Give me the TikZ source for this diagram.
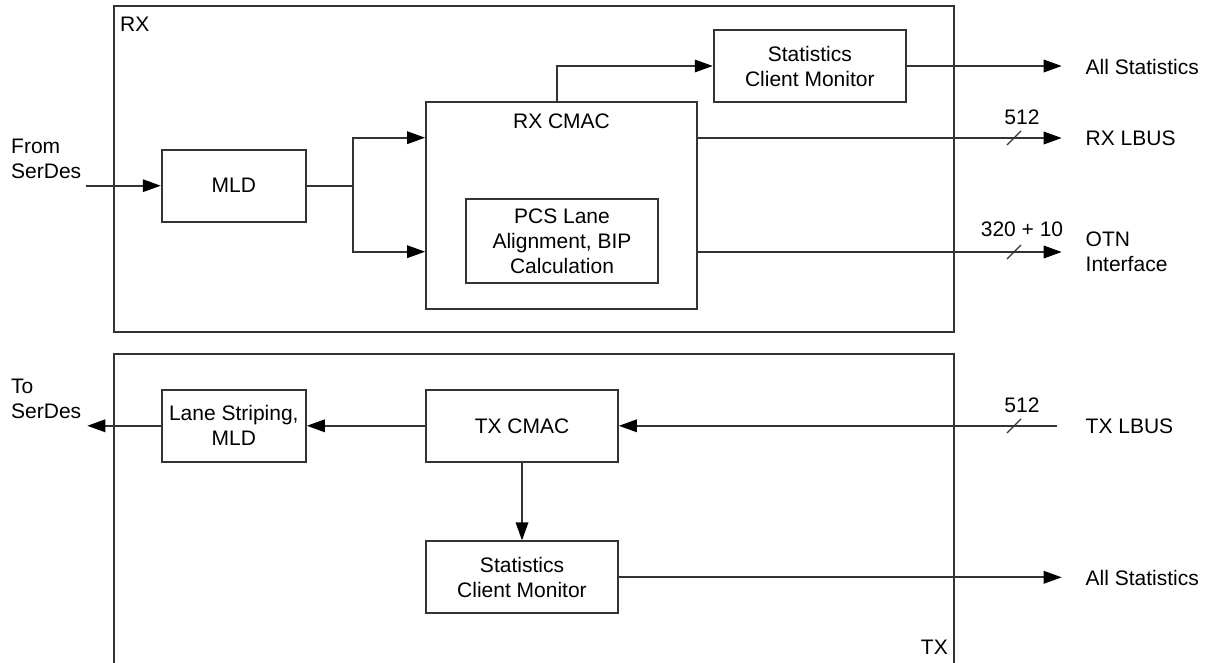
\documentclass[tikz,border=0pt]{standalone}
\usepackage{fontspec}
\setmainfont{Liberation Sans}
\usetikzlibrary{arrows.meta}
\definecolor{ln}{HTML}{333333}
\tikzset{
  blk/.style={draw=ln, line width=1.8pt, rectangle, align=center, inner sep=0pt},
  arr/.style={draw=ln, line width=1.8pt, -{Triangle[length=18pt,width=12.5pt,color=black]}},
  wire/.style={draw=ln, line width=1.8pt},
  txt/.style={inner sep=0pt, align=left, anchor=west},
  lbl/.style={inner sep=0pt},
  slashmark/.style={draw=ln, line width=1.2pt}
}
\begin{document}
\begin{tikzpicture}[x=1pt,y=-1pt,font=\fontsize{21}{25}\selectfont]
\useasboundingbox (0,0) rectangle (1212,663);
% outer boxes
\draw[wire] (114,6) rectangle (954,332);
\draw[wire] (114,663) -- (114,354) -- (954,354) -- (954,663);
\node[lbl, anchor=west] (rxlbl) at (120,24) {RX};
\node[lbl, anchor=east] (txlbl) at (948,647) {TX};
% RX blocks
\node[blk, minimum width=144.3pt, minimum height=72pt] (mld) at (233.8,185.7) {MLD};
\node[blk, minimum width=271pt, minimum height=207.3pt] (cmac) at (561.5,205.3) {};
\node[lbl] (cmactitle) at (561.5,121) {RX CMAC};
\node[blk, minimum width=192pt, minimum height=83.7pt] (pcs) at (562,240.8) {PCS Lane\\Alignment, BIP\\Calculation};
\node[blk, minimum width=192.3pt, minimum height=72pt] (statsrx) at (809.8,66) {Statistics\\Client Monitor};
% RX external labels
\node[txt] (from) at (11,159) {From\\SerDes};
\node[txt] (allstat1) at (1085.5,67) {All Statistics};
\node[txt] (rxlbus) at (1085.5,138.5) {RX LBUS};
\node[txt] (otn) at (1085.5,252) {OTN\\Interface};
\node[lbl] (n512a) at (1022,117) {512};
\node[lbl] (n330) at (1022,229.5) {320 + 10};
% RX coordinates
\coordinate (fromend) at (86,185.7);
\coordinate (j) at (353.3,185.7);
\coordinate (rxlbusend) at (1061.7,138);
\coordinate (otnend) at (1061.7,252);
\coordinate (stat1end) at (1061.7,66);
% RX connectors
\draw[arr] (fromend) -- (mld.west);
\draw[wire] (mld.east) -- (j);
\draw[arr] (j) |- ([yshift=67.6pt]cmac.west);
\draw[arr] (j) |- ([yshift=-46.4pt]cmac.west);
\draw[arr] ([xshift=-4.8pt]cmac.north) |- (statsrx.west);
\draw[arr] (statsrx.east) -- (stat1end);
\draw[arr] ([yshift=67.3pt]cmac.east) -- (rxlbusend);
\draw[arr] ([yshift=-46.7pt]cmac.east) -- (otnend);
\draw[slashmark] (1007,145) -- (1021,131);
\draw[slashmark] (1007,259) -- (1021,245);
% TX blocks
\node[blk, minimum width=144.3pt, minimum height=71.7pt] (lane) at (233.8,425.8) {Lane Striping,\\MLD};
\node[blk, minimum width=192pt, minimum height=71.7pt] (txcmac) at (522,425.8) {TX CMAC};
\node[blk, minimum width=192pt, minimum height=72pt] (statstx) at (522,577.3) {Statistics\\Client Monitor};
% TX external labels
\node[txt] (to) at (11,398.5) {To\\SerDes};
\node[txt] (txlbus) at (1085.5,426) {TX LBUS};
\node[txt] (allstat2) at (1085.5,577.5) {All Statistics};
\node[lbl] (n512b) at (1022,405) {512};
% TX coordinates
\coordinate (txlbusstart) at (1057,425.8);
\coordinate (toend) at (87.3,425.8);
\coordinate (stat2end) at (1061.7,577.3);
% TX connectors
\draw[arr] (txlbusstart) -- (txcmac.east);
\draw[arr] (txcmac.west) -- (lane.east);
\draw[arr] (lane.west) -- (toend);
\draw[arr] (txcmac.south) -- (statstx.north);
\draw[arr] (statstx.east) -- (stat2end);
\draw[slashmark] (1007,433) -- (1021,419);
\end{tikzpicture}
\end{document}
